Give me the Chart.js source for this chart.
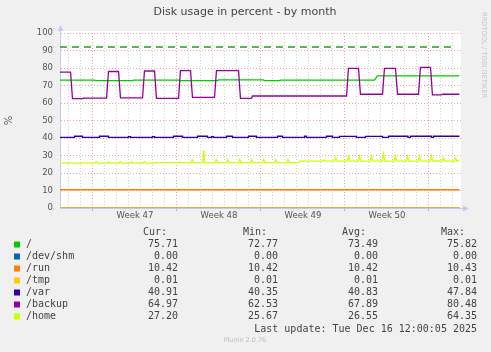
<!DOCTYPE html>
<html>
<head>
<meta charset="utf-8">
<script src="https://cdn.jsdelivr.net/npm/chart.js@4.4.1/dist/chart.umd.min.js"></script>
<style>
    html, body { margin: 0; padding: 0; background: #f0f0f0; }
</style>
</head>
<body>
<canvas id="diskChart" width="491" height="352"></canvas>
<script>
// x = days since the left edge of the graph, y = percent used
const weekLabels = ['Week 47', 'Week 48', 'Week 49', 'Week 50'];
const weekMid = [6.25, 13.25, 20.25, 27.25];
const weekStart = [2.75, 9.75, 16.75, 23.75, 30.75];

const seriesNames = ['/', '/dev/shm', '/run', '/tmp', '/var', '/backup', '/home'];
const seriesColors = ['#00CC00', '#0066B3', '#FF8000', '#FFCC00', '#330099', '#990099', '#CCFF00'];

const curValues = ['75.71', '0.00', '10.42', '0.01', '40.91', '64.97', '27.20'];
const minValues = ['72.77', '0.00', '10.42', '0.01', '40.35', '62.53', '25.67'];
const avgValues = ['73.49', '0.00', '10.42', '0.01', '40.83', '67.89', '26.55'];
const maxValues = ['75.82', '0.00', '10.43', '0.01', '47.84', '80.48', '64.35'];

const rootData = [[0, 73.1], [2.88, 73.1], [2.96, 72.8], [6.04, 72.8], [6.13, 73.1], [9.96, 73.1], [10.04, 72.8],
    [13.13, 72.8], [13.21, 73.2], [16.96, 73.2], [17.04, 72.8], [18.29, 72.8], [18.38, 73.1], [26.21, 73.1],
    [26.46, 75.5], [33.12, 75.5], [33.29, 75.7]];
const shmData = [[0, 0], [33.29, 0]];
const runData = [[0, 10.42], [33.29, 10.42]];
const tmpData = [[0, 0.01], [33.29, 0.01]];
const varData = [[0, 40.4], [1.21, 41.0], [1.88, 40.4], [3.29, 41.0], [4.04, 40.4], [5.71, 40.8], [5.88, 40.4],
    [7.71, 40.8], [7.88, 40.4], [9.46, 41.0], [10.21, 40.4], [11.46, 41.0], [12.29, 40.4], [12.63, 40.8],
    [12.79, 40.4], [13.88, 41.0], [14.38, 40.4], [15.71, 41.0], [16.38, 40.4], [18.13, 41.0], [18.54, 40.4],
    [20.38, 41.0], [20.54, 40.4], [22.21, 41.0], [22.71, 40.4], [23.29, 40.9], [24.71, 40.4], [25.46, 40.9],
    [26.88, 40.4], [27.38, 41.0], [29.0, 40.4], [29.21, 41.0], [30.96, 40.4], [31.13, 41.0], [33.29, 41.0]];
const backupData = [[0, 77.6], [0.88, 77.6], [1.04, 62.5], [1.88, 62.5], [1.96, 62.8], [3.88, 62.8], [4.04, 78.0],
    [4.88, 78.0], [5.04, 62.9], [6.88, 62.9], [7.04, 78.3], [7.88, 78.3], [8.04, 62.7], [9.88, 62.7], [10.04, 78.5],
    [10.88, 78.5], [11.04, 63.2], [12.88, 63.2], [13.04, 78.5], [14.88, 78.5], [15.04, 62.7], [15.96, 62.7],
    [16.04, 64.0], [23.88, 64.0], [24.04, 79.8], [24.88, 79.8], [25.04, 65.0], [26.88, 65.0], [27.04, 79.8],
    [27.96, 79.8], [28.13, 65.0], [29.88, 65.0], [30.04, 80.4], [30.88, 80.4], [31.04, 64.6], [31.79, 64.6],
    [31.88, 65.0], [33.29, 65.0]];
const homeData = [[0, 25.6], [2.92, 25.6], [3.02, 26.5], [3.12, 25.6], [3.94, 25.6], [4.04, 26.5], [4.14, 25.6],
    [4.92, 25.6], [5.02, 26.5], [5.12, 25.6], [5.88, 25.6], [5.98, 26.5], [6.08, 25.6], [6.94, 25.6], [7.04, 26.5],
    [7.14, 25.6], [7.9, 25.6], [7.96, 25.9], [9.92, 25.9], [10.02, 26.4], [10.12, 25.9], [10.92, 25.9], [11.02, 27.8],
    [11.12, 25.9], [11.9, 25.9], [11.98, 33.1], [12.06, 25.9], [12.92, 25.9], [13.02, 27.8], [13.12, 25.9],
    [13.88, 25.9], [13.98, 27.8], [14.08, 25.9], [14.88, 25.9], [14.98, 27.8], [15.08, 25.9], [15.88, 25.9],
    [15.98, 27.8], [16.08, 25.9], [16.88, 25.9], [16.98, 27.8], [17.08, 25.9], [17.88, 25.9], [17.98, 27.8],
    [18.08, 25.9], [18.9, 25.9], [19.0, 27.8], [19.1, 25.9], [19.9, 25.9], [19.98, 26.8], [21.88, 26.8],
    [21.98, 27.4], [22.08, 26.8], [22.88, 26.8], [22.98, 28.7], [23.08, 26.8], [23.94, 26.8], [24.04, 29.7],
    [24.14, 26.8], [24.86, 26.8], [24.96, 29.7], [25.06, 26.8], [25.86, 26.8], [25.96, 29.7], [26.06, 26.8],
    [26.86, 26.8], [26.96, 31.2], [27.06, 26.8], [27.86, 26.8], [27.96, 29.7], [28.06, 26.8], [28.86, 26.8],
    [28.96, 29.7], [29.06, 26.8], [29.86, 26.8], [29.96, 29.7], [30.06, 26.8], [30.86, 26.8], [30.96, 30.0],
    [31.06, 26.8], [31.3, 26.8], [31.38, 27.3], [31.45, 26.8], [31.86, 26.8], [31.96, 28.6], [32.06, 26.8],
    [32.86, 26.8], [32.96, 28.6], [33.06, 26.8], [33.29, 27.2]];
const warningData = [[0, 92], [32.96, 92]];

const seriesData = [rootData, shmData, runData, tmpData, varData, backupData, homeData];

const axisColor = '#c4c8f2';
const majorGrid = 'rgba(225, 90, 90, 0.55)';
const minorGrid = 'rgba(150, 150, 150, 0.45)';
const textColor = '#444';

function isWeekStart(v) {
    return weekStart.some(w => Math.abs(w - v) < 0.001);
}
function isWeekMid(v) {
    return weekMid.some(w => Math.abs(w - v) < 0.001);
}

const muninFrame = {
    id: 'muninFrame',
    beforeDraw(chart) {
        const ctx = chart.ctx;
        const a = chart.chartArea;
        ctx.save();
        ctx.fillStyle = '#ffffff';
        ctx.fillRect(a.left, a.top - 2, a.right - a.left, a.bottom - a.top + 3);
        ctx.restore();
    },
    afterDraw(chart) {
        const ctx = chart.ctx;
        const a = chart.chartArea;
        ctx.save();

        // axis arrows
        ctx.strokeStyle = axisColor;
        ctx.fillStyle = axisColor;
        ctx.lineWidth = 1;
        ctx.beginPath();
        ctx.moveTo(a.left + 0.5, a.top);
        ctx.lineTo(a.left + 0.5, a.top - 3);
        ctx.moveTo(a.right, a.bottom + 0.5);
        ctx.lineTo(a.right + 3, a.bottom + 0.5);
        ctx.stroke();
        ctx.beginPath();
        ctx.moveTo(a.left + 0.5, a.top - 8);
        ctx.lineTo(a.left - 2.5, a.top - 2);
        ctx.lineTo(a.left + 3.5, a.top - 2);
        ctx.closePath();
        ctx.fill();
        ctx.beginPath();
        ctx.moveTo(a.right + 8, a.bottom + 0.5);
        ctx.lineTo(a.right + 2, a.bottom - 2.5);
        ctx.lineTo(a.right + 2, a.bottom + 3.5);
        ctx.closePath();
        ctx.fill();

        // title
        ctx.fillStyle = textColor;
        ctx.font = '11px "DejaVu Sans"';
        ctx.textAlign = 'center';
        ctx.textBaseline = 'middle';
        ctx.fillText('Disk usage in percent - by month', 245, 12);

        // vertical credit
        ctx.save();
        ctx.translate(484, 12);
        ctx.rotate(Math.PI / 2);
        ctx.fillStyle = '#c6c6c6';
        ctx.font = '6.7px "DejaVu Sans"';
        ctx.textAlign = 'left';
        ctx.fillText('RRDTOOL / TOBI OETIKER', 0, 0);
        ctx.restore();

        // legend table
        ctx.font = '10px "DejaVu Sans Mono"';
        ctx.fillStyle = textColor;
        ctx.textAlign = 'left';
        ctx.fillText('Cur:', 143, 232.5);
        ctx.fillText('Min:', 243, 232.5);
        ctx.fillText('Avg:', 342, 232.5);
        ctx.fillText('Max:', 441, 232.5);
        seriesNames.forEach(function(name, i) {
            const y = 244.5 + i * 12;
            ctx.fillStyle = seriesColors[i];
            ctx.fillRect(14, y - 3, 6, 6);
            ctx.fillStyle = textColor;
            ctx.textAlign = 'left';
            ctx.fillText(name, 26, y);
            ctx.textAlign = 'right';
            ctx.fillText(curValues[i], 178, y);
            ctx.fillText(minValues[i], 278, y);
            ctx.fillText(avgValues[i], 378, y);
            ctx.fillText(maxValues[i], 477, y);
        });
        ctx.textAlign = 'right';
        ctx.fillText('Last update: Tue Dec 16 12:00:05 2025', 477, 329);

        ctx.textAlign = 'center';
        ctx.fillStyle = '#bdbdbd';
        ctx.font = '6.5px "DejaVu Sans"';
        ctx.fillText('Munin 2.0.76', 245, 340);
        ctx.restore();
    }
};

const datasets = seriesNames.map(function(name, i) {
    return {
        label: name,
        data: seriesData[i],
        borderColor: seriesColors[i],
        borderWidth: 1.3,
        pointRadius: 0,
        fill: false,
        stepped: name === '/var',
        order: seriesNames.length - i
    };
});
datasets.push({
    label: 'warning',
    data: warningData,
    borderColor: '#14a814',
    borderWidth: 1.3,
    borderDash: [7, 5],
    pointRadius: 0,
    fill: false,
    order: 20
});

new Chart(document.getElementById('diskChart').getContext('2d'), {
    type: 'line',
    data: { datasets: datasets },
    options: {
        responsive: false,
        animation: false,
        devicePixelRatio: 1,
        layout: { padding: { top: 33, right: 30, left: 0, bottom: 0 } },
        plugins: {
            legend: { display: false },
            tooltip: { enabled: false },
            title: { display: false }
        },
        scales: {
            x: {
                type: 'linear',
                min: 0,
                max: 33.42,
                afterFit: function(scale) { scale.height = 144; },
                afterBuildTicks: function(scale) {
                    const ticks = [];
                    for (let d = 0.75; d < 33.4; d += 1) {
                        ticks.push({ value: d });
                    }
                    weekMid.forEach(v => ticks.push({ value: v }));
                    ticks.sort((p, q) => p.value - q.value);
                    scale.ticks = ticks;
                },
                grid: {
                    color: function(c) {
                        if (!c.tick) return 'rgba(0,0,0,0)';
                        if (isWeekMid(c.tick.value)) return 'rgba(0,0,0,0)';
                        return isWeekStart(c.tick.value) ? majorGrid : minorGrid;
                    },
                    tickColor: function(c) {
                        if (c.tick && isWeekStart(c.tick.value)) return majorGrid;
                        return 'rgba(0,0,0,0)';
                    },
                    tickLength: 3,
                    drawTicks: true
                },
                border: { color: axisColor, width: 1, dash: [1, 2] },
                ticks: {
                    autoSkip: false,
                    maxRotation: 0,
                    padding: 0,
                    color: '#555',
                    font: { family: 'DejaVu Sans', size: 8.5 },
                    callback: function(value) {
                        const i = weekMid.findIndex(w => Math.abs(w - value) < 0.001);
                        return i >= 0 ? weekLabels[i] : '';
                    }
                }
            },
            y: {
                min: 0,
                max: 100,
                afterFit: function(scale) { scale.width = 60; },
                title: {
                    display: true,
                    text: '%',
                    color: '#555',
                    font: { family: 'DejaVu Sans', size: 10 },
                    padding: { top: 3, bottom: 0 }
                },
                grid: {
                    color: function(c) {
                        if (!c.tick) return minorGrid;
                        return c.tick.value % 10 === 0 ? majorGrid : minorGrid;
                    },
                    drawTicks: false
                },
                border: { color: axisColor, width: 1, dash: [1, 2] },
                ticks: {
                    stepSize: 5,
                    padding: 7,
                    color: '#555',
                    font: { family: 'DejaVu Sans', size: 8.5 },
                    callback: function(value) {
                        return value % 10 === 0 ? value : '';
                    }
                }
            }
        }
    },
    plugins: [muninFrame]
});
</script>
</body>
</html>
